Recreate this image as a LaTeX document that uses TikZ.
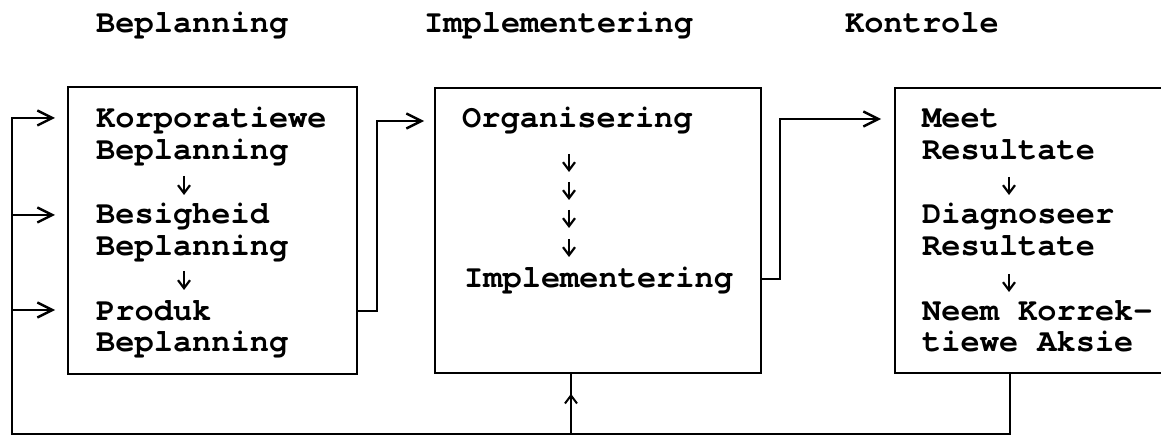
\documentclass[tikz,border=0pt]{standalone}
\usepackage{fontspec}
\newfontfamily\cour{TeX Gyre Cursor}
\usetikzlibrary{arrows.meta,decorations.markings}

\begin{document}
\begin{tikzpicture}[x=1pt,y=-1pt,
  line/.style={line width=2pt},
  panel/.style={draw, line width=2pt, rectangle, inner sep=0pt},
  txt/.style={anchor=base west, inner sep=0pt, font={\cour\bfseries\fontsize{32}{32}\selectfont}},
  head/.style={anchor=base west, inner sep=0pt, font={\cour\bfseries\fontsize{32}{32}\selectfont}},
  stepdown/.style={line width=2pt, -{Straight Barb[length=8pt,width=12pt,line width=2.2pt]}},
  chev/.style={line width=2pt, -{Straight Barb[length=15pt,width=15pt,line width=2.4pt]}},
  uptip/.style={decoration={markings, mark=at position 0.67 with {\arrow[line width=2pt]{Straight Barb[length=8pt,width=12pt]}}}, postaction=decorate}
]
\useasboundingbox (0,0) rectangle (1161,435);
\clip (0,0) rectangle (1161,435);

% column headings
\node[head] (hplan) at (96,33) {Beplanning};
\node[head] (himpl) at (424,33) {Implementering};
\node[head] (hctrl) at (845,33) {Kontrole};

% the three stage boxes
\node[panel, minimum width=289pt, minimum height=287pt] (plan) at (212.5,230.5) {};
\node[panel, minimum width=326pt, minimum height=285pt] (impl) at (598,230.5) {};
\node[panel, minimum width=285pt, minimum height=285pt] (ctrl) at (1037.5,230.5) {};

% planning steps
\node[txt] (p1) at (96,128) {Korporatiewe};
\node[txt] (p2) at (96,160) {Beplanning};
\node[txt] (p3) at (96,224) {Besigheid};
\node[txt] (p4) at (96,256) {Beplanning};
\node[txt] (p5) at (96,320) {Produk};
\node[txt] (p6) at (96,352) {Beplanning};
\draw[stepdown] (184,176) -- (184,195);
\draw[stepdown] (184,271) -- (184,290);

% implementation steps
\node[txt] (i1) at (462,128) {Organisering};
\node[txt] (i2) at (464,288) {Implementering};
\foreach \yb in {172,200,228,257}
  \draw[stepdown] (569,\yb-18) -- (569,\yb);

% control steps
\node[txt] (c1) at (922,128) {Meet};
\node[txt] (c2) at (922,160) {Resultate};
\node[txt] (c3) at (922,224) {Diagnoseer};
\node[txt] (c4) at (922,256) {Resultate};
\node[txt] (c5) at (922,320) {Neem Korrek-};
\node[txt] (c6) at (922,352) {tiewe Aksie};
\draw[stepdown] (1009,177) -- (1009,195);
\draw[stepdown] (1009,274) -- (1009,292);

% routing points
\coordinate (j1) at (377,311);
\coordinate (t2) at (424,121);
\coordinate (j2) at (780,279);
\coordinate (t3) at (881,119);
\coordinate (fb) at (1010,434);
\coordinate (fbl) at (12,434);
\coordinate (a1) at (55,118);
\coordinate (a2) at (55,215);
\coordinate (a3) at (55,310);
\coordinate (up) at (571,434);

% forward flow between stages
\draw[chev] (plan.east |- j1) -- (j1) |- (t2);
\draw[chev] (impl.east |- j2) -- (j2) |- (t3);

% feedback loop from control back to planning
\draw[chev] (ctrl.south -| fb) -- (fb) -- (fbl) |- (a1);
\draw[chev] (fbl |- a2) -- (a2);
\draw[chev] (fbl |- a3) -- (a3);

% feedback into implementation
\draw[line, uptip] (up) -- (impl.south -| up);
\end{tikzpicture}
\end{document}
